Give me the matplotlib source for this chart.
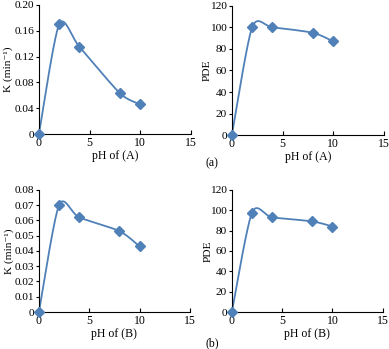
import numpy as np
import matplotlib
matplotlib.use("Agg")
import matplotlib.pyplot as plt

plt.rcParams['font.family'] = ['Liberation Serif', 'DejaVu Serif']

ph = [0, 2, 4, 8, 10]
k_a = [0, 0.170, 0.135, 0.063, 0.046]
pde_a = [0, 100, 100, 95, 87]
k_b = [0, 0.070, 0.062, 0.053, 0.043]
pde_b = [0, 97.5, 93, 89, 84]

COL = '#5080B8'


def smooth(xs, ys, xmax, ymax, tens=0.13, n=40):
    # excel-like smoothed line, done in axes-fraction space
    p = np.column_stack([np.array(xs) / xmax, np.array(ys) / ymax])
    out = []
    for i in range(len(p) - 1):
        p0 = p[i - 1] if i > 0 else p[i]
        p1, p2 = p[i], p[i + 1]
        p3 = p[i + 2] if i + 2 < len(p) else p[i + 1]
        c1 = p1 + (p2 - p0) * tens
        c2 = p2 - (p3 - p1) * tens
        t = np.linspace(0, 1, n)[:, None]
        seg = (1 - t) ** 3 * p1 + 3 * (1 - t) ** 2 * t * c1 + 3 * (1 - t) * t ** 2 * c2 + t ** 3 * p2
        out.append(seg)
    out = np.vstack(out)
    return out[:, 0] * xmax, out[:, 1] * ymax


def panel(ax, ys, ymax, yticks, yfmt, ylabel, xlabel, lab_x):
    sx, sy = smooth(ph, ys, 15, ymax)
    ax.plot(sx, sy, color=COL, lw=1.3, clip_on=False)
    ax.plot(ph, ys, 'D', color=COL, ms=5, clip_on=False, zorder=3)
    ax.set_xlim(0, 15)
    ax.set_ylim(0, ymax)
    ax.set_xticks([0, 5, 10, 15])
    ax.set_yticks(yticks)
    ax.set_yticklabels([yfmt(v) for v in yticks])
    ax.spines['top'].set_visible(False)
    ax.spines['right'].set_visible(False)
    for s in ('left', 'bottom'):
        ax.spines[s].set_linewidth(0.8)
    ax.tick_params(axis='x', direction='in', length=3, width=0.8, labelsize=8.5, pad=2)
    ax.tick_params(axis='y', direction='out', length=2.5, width=0.8, labelsize=8.2, pad=1)
    ax.set_xlabel(xlabel, fontsize=8.5, labelpad=1)
    ax.set_ylabel(ylabel, fontsize=8.2)
    ax.yaxis.set_label_coords(lab_x, 0.5)


fig = plt.figure(figsize=(3.89, 3.49), dpi=100)
ax1 = fig.add_axes([0.100, 0.616, 0.391, 0.370])
ax2 = fig.add_axes([0.596, 0.613, 0.391, 0.370])
ax3 = fig.add_axes([0.100, 0.106, 0.388, 0.350])
ax4 = fig.add_axes([0.596, 0.106, 0.388, 0.350])

fmt_k = lambda v: '0' if v == 0 else f'{v:.2f}'
fmt_i = lambda v: f'{v:d}'

panel(ax1, k_a, 0.20, [0, 0.04, 0.08, 0.12, 0.16, 0.20], fmt_k, 'K (min\u207b\u00b9)', 'pH of (A)', -0.168)
panel(ax2, pde_a, 120, list(range(0, 121, 20)), fmt_i, 'PDE', 'pH of (A)', -0.13)
panel(ax3, k_b, 0.08, [0, 0.01, 0.02, 0.03, 0.04, 0.05, 0.06, 0.07, 0.08], fmt_k, 'K (min\u207b\u00b9)', 'pH of (B)', -0.168)
panel(ax4, pde_b, 120, list(range(0, 121, 20)), fmt_i, 'PDE', 'pH of (B)', -0.13)

fig.text(212 / 389, 1 - 163 / 349, '(a)', ha='center', va='center', fontsize=8.5)
fig.text(212 / 389, 1 - 343 / 349, '(b)', ha='center', va='center', fontsize=8.5)

fig.savefig('out.png', dpi=100)
